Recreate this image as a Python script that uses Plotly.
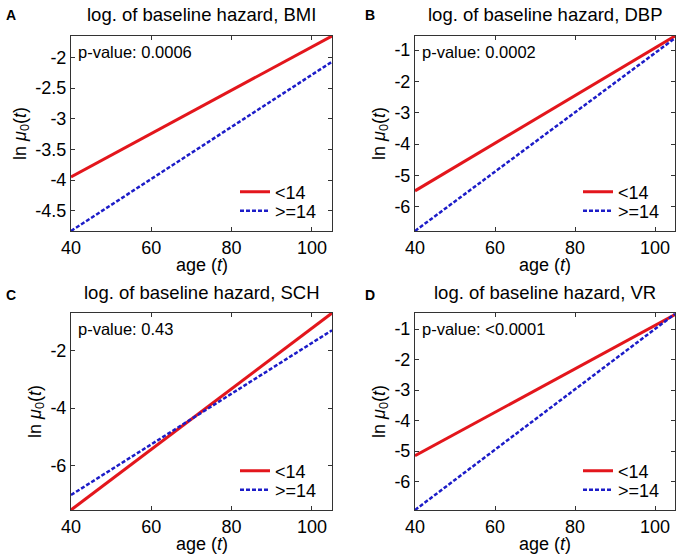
import plotly.graph_objects as go

ages = [40, 105]
panels = ["A", "B", "C", "D"]
titles = ["log. of baseline hazard, BMI", "log. of baseline hazard, DBP",
          "log. of baseline hazard, SCH", "log. of baseline hazard, VR"]
pvalues = ["p-value: 0.0006", "p-value: 0.0002", "p-value: 0.43", "p-value: <0.0001"]
lt14 = [[-3.95, -1.65], [-5.49, -0.55], [-7.54, -0.70], [-5.15, -0.52]]
ge14 = [[-4.83, -2.07], [-6.77, -0.62], [-7.02, -1.30], [-6.93, -0.50]]
yranges = [[-4.83, -1.65], [-6.77, -0.55], [-7.54, -0.70], [-6.93, -0.47]]
yticks = [[-4.5, -4, -3.5, -3, -2.5, -2], [-6, -5, -4, -3, -2, -1],
          [-6, -4, -2], [-6, -5, -4, -3, -2, -1]]
yticktext = [["-4.5", "-4", "-3.5", "-3", "-2.5", "-2"], ["-6", "-5", "-4", "-3", "-2", "-1"],
             ["-6", "-4", "-2"], ["-6", "-5", "-4", "-3", "-2", "-1"]]
xticks = [40, 60, 80, 100]
series_names = ["<14", ">=14"]
x_title = "age (<i>t</i>)"
y_title = "ln <i>μ</i><sub>0</sub>(<i>t</i>)"

W, H = 679, 559
FONT = "Liberation Sans, Arial, sans-serif"
RED = "#e3161c"
BLUE = "#1c1cc8"

# plot-area pixel boxes (left, right, top, bottom)
boxes = [(71, 332, 36, 231), (415, 675, 36, 231), (71, 332, 313, 510), (415, 675, 313, 510)]
letter_pos = [(4, 15), (363, 15), (4, 295), (363, 295)]

fig = go.Figure()
layout = dict(template="none", width=W, height=H, margin=dict(l=0, r=0, t=0, b=0, autoexpand=False),
              paper_bgcolor="white", plot_bgcolor="white",
              font=dict(family=FONT, size=18, color="black"))
annotations = []

for i in range(4):
    l, r, t, b = boxes[i]
    xd = [l / W, r / W]
    yd = [(H - b) / H, (H - t) / H]
    suffix = "" if i == 0 else str(i + 1)
    xa = "x" + suffix
    ya = "y" + suffix
    leg_r = "legend" + ("" if i == 0 else str(2 * i + 1))
    leg_b = "legend" + str(2 * i + 2)
    fig.add_trace(go.Scatter(x=ages, y=lt14[i], mode="lines", name=series_names[0],
                             line=dict(color=RED, width=3), xaxis=xa, yaxis=ya,
                             legend=leg_r, showlegend=True))
    fig.add_trace(go.Scatter(x=ages, y=ge14[i], mode="lines", name=series_names[1],
                             line=dict(color=BLUE, width=2.5, dash="4px,2px"), xaxis=xa, yaxis=ya,
                             legend=leg_b, showlegend=True))
    axcommon = dict(showline=True, linecolor="#333333", linewidth=1, mirror="ticks",
                    ticks="inside", ticklen=4, tickcolor="#333333", showgrid=False,
                    zeroline=False, automargin=False, tickfont=dict(size=18, family=FONT))
    layout["xaxis" + suffix] = dict(domain=xd, range=[40, 105], tickvals=xticks,
                                    anchor=ya, **axcommon)
    layout["yaxis" + suffix] = dict(domain=yd, range=yranges[i], tickvals=yticks[i],
                                    ticktext=yticktext[i], anchor=xa,
                                    title=dict(text=y_title, standoff=4, font=dict(size=18)),
                                    **axcommon)
    for leg, dy in ((leg_r, 39), (leg_b, 20)):
        layout[leg] = dict(x=(r - 97) / W, y=(H - (b - dy)) / H, xanchor="left", yanchor="middle",
                           bgcolor="rgba(0,0,0,0)", borderwidth=0, font=dict(size=18, family=FONT),
                           itemwidth=30)
    # x-axis title
    annotations.append(dict(text=x_title, x=(l + r) / 2 / W, y=(H - (b + 34)) / H,
                            xref="paper", yref="paper", showarrow=False,
                            xanchor="center", yanchor="middle", font=dict(size=18)))
    # title
    annotations.append(dict(text=titles[i], x=(l + r) / 2 / W, y=(H - (t - 21)) / H,
                            xref="paper", yref="paper", showarrow=False,
                            xanchor="center", yanchor="middle", font=dict(size=18.5)))
    # panel letter
    lx, ly = letter_pos[i]
    annotations.append(dict(text="<b>" + panels[i] + "</b>", x=lx / W, y=(H - ly) / H,
                            xref="paper", yref="paper", showarrow=False,
                            xanchor="left", yanchor="middle", font=dict(size=14)))
    # p-value
    annotations.append(dict(text=pvalues[i], x=(l + 5) / W, y=(H - (t + 16)) / H,
                            xref="paper", yref="paper", showarrow=False,
                            xanchor="left", yanchor="middle", font=dict(size=16.5)))

layout["annotations"] = annotations
fig.update_layout(**layout)
fig.write_html("out.html", config={"displayModeBar": False},
               post_script="document.body.style.margin='0';document.body.style.padding='0';")
